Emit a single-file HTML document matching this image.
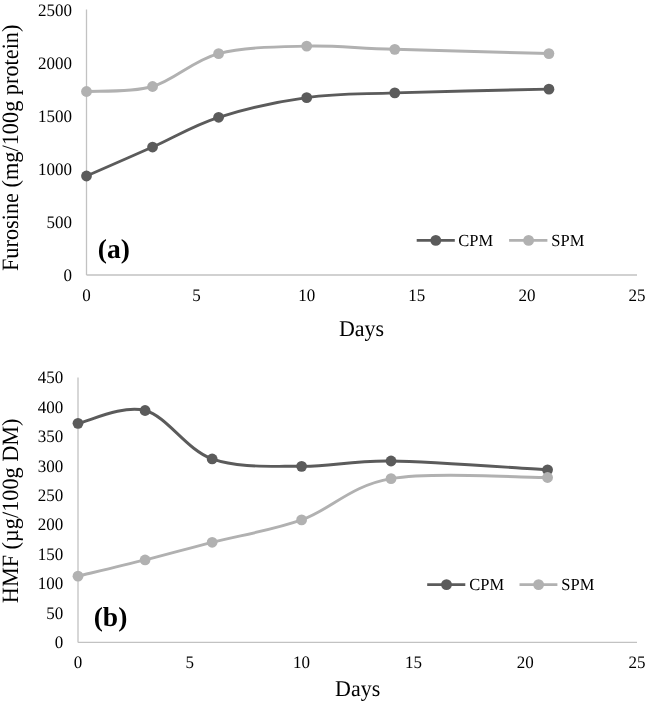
<!DOCTYPE html>
<html><head><meta charset="utf-8"><style>
html,body{margin:0;padding:0;background:#fff;}
body{width:646px;height:702px;overflow:hidden;}
svg{display:block;filter:grayscale(1);}
text{font-family:"Liberation Serif",serif;fill:#000;text-rendering:geometricPrecision;}
</style></head><body>
<svg width="646" height="702" viewBox="0 0 646 702">
<line x1="86.5" y1="9.5" x2="86.5" y2="275.0" stroke="#C2C2C2" stroke-width="1.3"/>
<line x1="86.5" y1="275.0" x2="637.0" y2="275.0" stroke="#C2C2C2" stroke-width="1.3"/>
<text transform="translate(72.00,281.00) scale(1,1.030)" font-size="17.00" text-anchor="end">0</text>
<text transform="translate(72.00,227.90) scale(1,1.030)" font-size="17.00" text-anchor="end">500</text>
<text transform="translate(72.00,174.80) scale(1,1.030)" font-size="17.00" text-anchor="end">1000</text>
<text transform="translate(72.00,121.70) scale(1,1.030)" font-size="17.00" text-anchor="end">1500</text>
<text transform="translate(72.00,68.60) scale(1,1.030)" font-size="17.00" text-anchor="end">2000</text>
<text transform="translate(72.00,15.50) scale(1,1.030)" font-size="17.00" text-anchor="end">2500</text>
<text transform="translate(86.50,300.80) scale(1,1.030)" font-size="17.00" text-anchor="middle">0</text>
<text transform="translate(196.60,300.80) scale(1,1.030)" font-size="17.00" text-anchor="middle">5</text>
<text transform="translate(306.70,300.80) scale(1,1.030)" font-size="17.00" text-anchor="middle">10</text>
<text transform="translate(416.80,300.80) scale(1,1.030)" font-size="17.00" text-anchor="middle">15</text>
<text transform="translate(526.90,300.80) scale(1,1.030)" font-size="17.00" text-anchor="middle">20</text>
<text transform="translate(637.00,300.80) scale(1,1.030)" font-size="17.00" text-anchor="middle">25</text>
<text transform="translate(361.50,335.60) scale(1,1.030)" font-size="22.00" text-anchor="middle">Days</text>
<text transform="translate(18.20,147.80) rotate(-90) scale(1,1.050)" font-size="22.30" text-anchor="middle">Furosine (mg/100g protein)</text>
<text transform="translate(97.80,257.90) scale(1,1.000)" font-size="27.50" font-weight="bold">(a)</text>
<line x1="416.7" y1="240.4" x2="454.8" y2="240.4" stroke="#5B5B5B" stroke-width="2.90"/>
<circle cx="435.8" cy="240.4" r="5.40" fill="#5B5B5B"/>
<text transform="translate(458.30,246.00) scale(1,1.030)" font-size="16.50">CPM</text>
<line x1="509.1" y1="240.4" x2="547.4" y2="240.4" stroke="#B1B1B1" stroke-width="2.90"/>
<circle cx="528.6" cy="240.4" r="5.40" fill="#B1B1B1"/>
<text transform="translate(551.30,246.00) scale(1,1.030)" font-size="16.50">SPM</text>
<path d="M86.50,176.02 C97.51,171.19 130.54,156.82 152.56,147.03 C174.58,137.24 192.93,125.52 218.62,117.29 C244.31,109.06 277.34,101.72 306.70,97.65 C336.06,93.57 354.41,94.28 394.78,92.87 C435.15,91.45 523.23,89.77 548.92,89.15" fill="none" stroke="#5B5B5B" stroke-width="2.90" stroke-linecap="round" stroke-linejoin="round"/>
<circle cx="86.50" cy="176.02" r="5.40" fill="#5B5B5B"/>
<circle cx="152.56" cy="147.03" r="5.40" fill="#5B5B5B"/>
<circle cx="218.62" cy="117.29" r="5.40" fill="#5B5B5B"/>
<circle cx="306.70" cy="97.65" r="5.40" fill="#5B5B5B"/>
<circle cx="394.78" cy="92.87" r="5.40" fill="#5B5B5B"/>
<circle cx="548.92" cy="89.15" r="5.40" fill="#5B5B5B"/>
<path d="M86.50,91.49 C97.51,90.65 130.54,92.81 152.56,86.50 C174.58,80.18 192.93,60.30 218.62,53.57 C244.31,46.85 277.34,46.85 306.70,46.14 C336.06,45.43 354.41,48.09 394.78,49.32 C435.15,50.56 523.23,52.87 548.92,53.57" fill="none" stroke="#B1B1B1" stroke-width="2.90" stroke-linecap="round" stroke-linejoin="round"/>
<circle cx="86.50" cy="91.49" r="5.40" fill="#B1B1B1"/>
<circle cx="152.56" cy="86.50" r="5.40" fill="#B1B1B1"/>
<circle cx="218.62" cy="53.57" r="5.40" fill="#B1B1B1"/>
<circle cx="306.70" cy="46.14" r="5.40" fill="#B1B1B1"/>
<circle cx="394.78" cy="49.32" r="5.40" fill="#B1B1B1"/>
<circle cx="548.92" cy="53.57" r="5.40" fill="#B1B1B1"/>
<line x1="78.0" y1="377.4" x2="78.0" y2="642.4" stroke="#C2C2C2" stroke-width="1.3"/>
<line x1="78.0" y1="642.4" x2="637.0" y2="642.4" stroke="#C2C2C2" stroke-width="1.3"/>
<text transform="translate(63.30,648.20) scale(1,1.030)" font-size="17.00" text-anchor="end">0</text>
<text transform="translate(63.30,618.76) scale(1,1.030)" font-size="17.00" text-anchor="end">50</text>
<text transform="translate(63.30,589.31) scale(1,1.030)" font-size="17.00" text-anchor="end">100</text>
<text transform="translate(63.30,559.87) scale(1,1.030)" font-size="17.00" text-anchor="end">150</text>
<text transform="translate(63.30,530.42) scale(1,1.030)" font-size="17.00" text-anchor="end">200</text>
<text transform="translate(63.30,500.98) scale(1,1.030)" font-size="17.00" text-anchor="end">250</text>
<text transform="translate(63.30,471.53) scale(1,1.030)" font-size="17.00" text-anchor="end">300</text>
<text transform="translate(63.30,442.09) scale(1,1.030)" font-size="17.00" text-anchor="end">350</text>
<text transform="translate(63.30,412.64) scale(1,1.030)" font-size="17.00" text-anchor="end">400</text>
<text transform="translate(63.30,383.20) scale(1,1.030)" font-size="17.00" text-anchor="end">450</text>
<text transform="translate(78.00,667.90) scale(1,1.030)" font-size="17.00" text-anchor="middle">0</text>
<text transform="translate(189.80,667.90) scale(1,1.030)" font-size="17.00" text-anchor="middle">5</text>
<text transform="translate(301.60,667.90) scale(1,1.030)" font-size="17.00" text-anchor="middle">10</text>
<text transform="translate(413.40,667.90) scale(1,1.030)" font-size="17.00" text-anchor="middle">15</text>
<text transform="translate(525.20,667.90) scale(1,1.030)" font-size="17.00" text-anchor="middle">20</text>
<text transform="translate(637.00,667.90) scale(1,1.030)" font-size="17.00" text-anchor="middle">25</text>
<text transform="translate(357.60,695.50) scale(1,1.030)" font-size="22.00" text-anchor="middle">Days</text>
<text transform="translate(18.20,510.85) rotate(-90) scale(1,1.050)" font-size="22.25" text-anchor="middle">HMF (µg/100g DM)</text>
<text transform="translate(93.70,626.20) scale(1,1.000)" font-size="27.50" font-weight="bold">(b)</text>
<line x1="427.2" y1="584.6" x2="465.3" y2="584.6" stroke="#5B5B5B" stroke-width="2.90"/>
<circle cx="446.5" cy="584.6" r="5.40" fill="#5B5B5B"/>
<text transform="translate(469.20,589.80) scale(1,1.030)" font-size="16.50">CPM</text>
<line x1="519.5" y1="584.6" x2="557.4" y2="584.6" stroke="#B1B1B1" stroke-width="2.90"/>
<circle cx="538.6" cy="584.6" r="5.40" fill="#B1B1B1"/>
<text transform="translate(561.30,589.80) scale(1,1.030)" font-size="16.50">SPM</text>
<path d="M78.00,423.33 C89.18,421.19 122.72,404.56 145.08,410.50 C167.44,416.43 186.07,449.66 212.16,458.96 C238.25,468.27 271.79,465.98 301.60,466.32 C331.41,466.67 350.05,460.43 391.04,461.02 C432.03,461.61 521.47,468.38 547.56,469.86" fill="none" stroke="#5B5B5B" stroke-width="2.90" stroke-linecap="round" stroke-linejoin="round"/>
<circle cx="78.00" cy="423.33" r="5.40" fill="#5B5B5B"/>
<circle cx="145.08" cy="410.50" r="5.40" fill="#5B5B5B"/>
<circle cx="212.16" cy="458.96" r="5.40" fill="#5B5B5B"/>
<circle cx="301.60" cy="466.32" r="5.40" fill="#5B5B5B"/>
<circle cx="391.04" cy="461.02" r="5.40" fill="#5B5B5B"/>
<circle cx="547.56" cy="469.86" r="5.40" fill="#5B5B5B"/>
<path d="M78.00,576.15 C89.18,573.45 122.72,565.60 145.08,559.96 C167.44,554.31 186.07,548.96 212.16,542.29 C238.25,535.61 271.79,530.51 301.60,519.91 C331.41,509.31 350.05,485.76 391.04,478.69 C432.03,471.62 521.47,477.71 547.56,477.51" fill="none" stroke="#B1B1B1" stroke-width="2.90" stroke-linecap="round" stroke-linejoin="round"/>
<circle cx="78.00" cy="576.15" r="5.40" fill="#B1B1B1"/>
<circle cx="145.08" cy="559.96" r="5.40" fill="#B1B1B1"/>
<circle cx="212.16" cy="542.29" r="5.40" fill="#B1B1B1"/>
<circle cx="301.60" cy="519.91" r="5.40" fill="#B1B1B1"/>
<circle cx="391.04" cy="478.69" r="5.40" fill="#B1B1B1"/>
<circle cx="547.56" cy="477.51" r="5.40" fill="#B1B1B1"/>
</svg>
</body></html>
